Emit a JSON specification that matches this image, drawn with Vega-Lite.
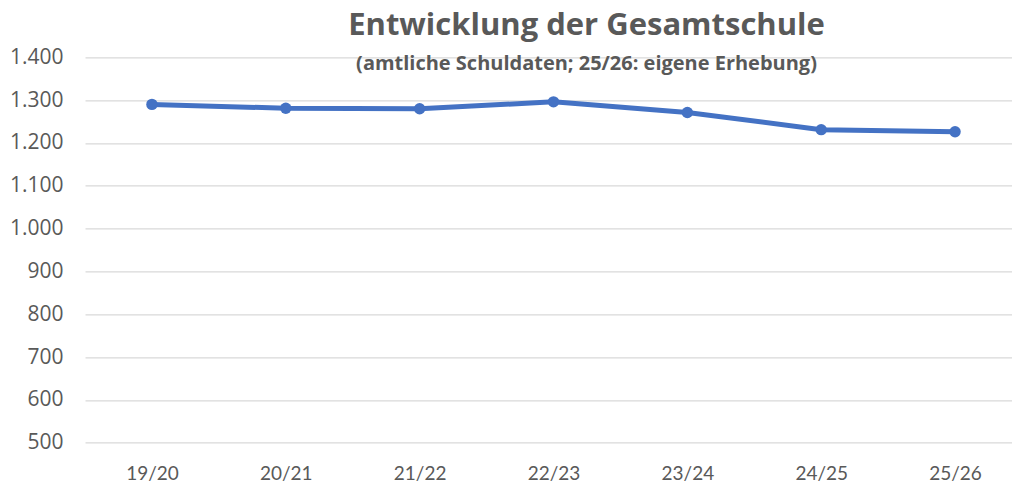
{
  "$schema": "https://vega.github.io/schema/vega-lite/v6.json",
  "autosize": "none",
  "width": 937,
  "height": 385.4,
  "padding": {"left": 85, "top": 57.3, "right": 0, "bottom": 43},
  "background": "white",
  "title": {
    "text": "Entwicklung der Gesamtschule",
    "subtitle": "(amtliche Schuldaten; 25/26: eigene Erhebung)",
    "anchor": "middle",
    "frame": "group",
    "dx": 33,
    "offset": -29,
    "font": "Open Sans",
    "fontSize": 31,
    "fontWeight": "bold",
    "color": "#595959",
    "subtitleFont": "Open Sans",
    "subtitleFontSize": 20,
    "subtitleFontWeight": "bold",
    "subtitleColor": "#595959",
    "subtitlePadding": 12
  },
  "data": {
    "values": [
      {"jahr": "19/20", "wert": 1290},
      {"jahr": "20/21", "wert": 1281},
      {"jahr": "21/22", "wert": 1280},
      {"jahr": "22/23", "wert": 1296},
      {"jahr": "23/24", "wert": 1271},
      {"jahr": "24/25", "wert": 1231},
      {"jahr": "25/26", "wert": 1226}
    ]
  },
  "config": {
    "view": {"stroke": null}
  },
  "mark": {"type": "line", "color": "#4472C4", "strokeWidth": 5, "point": {"filled": true, "size": 130, "color": "#4472C4"}},
  "encoding": {
    "x": {
      "field": "jahr",
      "type": "ordinal",
      "sort": null,
      "scale": {"type": "point", "padding": 0.5},
      "axis": {
        "title": null,
        "labelAngle": 0,
        "domain": false,
        "ticks": false,
        "labelPadding": 22,
        "labelFont": "Lato",
        "labelFontSize": 19,
        "labelColor": "#595959"
      }
    },
    "y": {
      "field": "wert",
      "type": "quantitative",
      "scale": {"domain": [500, 1400], "nice": false, "zero": false},
      "axis": {
        "title": null,
        "values": [500, 600, 700, 800, 900, 1000, 1100, 1200, 1300, 1400],
        "format": ",d",
        "labelExpr": "replace(datum.label, ',', '.')",
        "domain": false,
        "ticks": false,
        "labelPadding": 22,
        "labelFont": "Open Sans",
        "labelFontSize": 21,
        "labelColor": "#595959",
        "gridColor": "#d9d9d9",
        "gridWidth": 1.3
      }
    }
  }
}
